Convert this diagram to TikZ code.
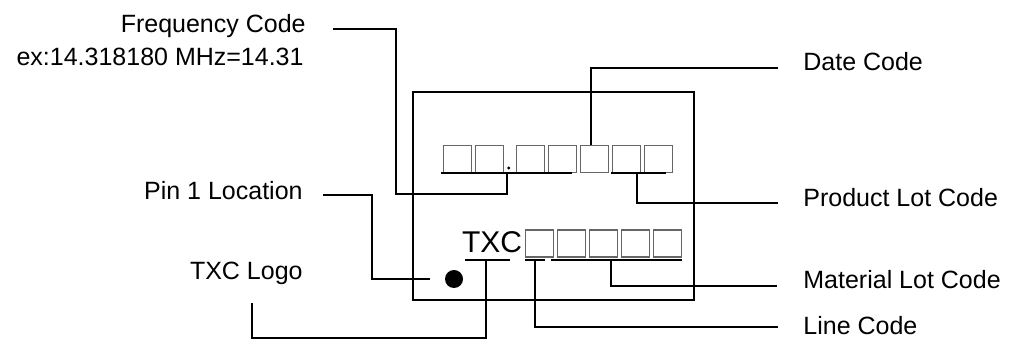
\documentclass[tikz,border=0pt]{standalone}
\usepackage{fontspec}
\setmainfont{Liberation Sans}
\begin{document}
\begin{tikzpicture}[x=0.5pt,y=-0.5pt]

% ---------- styles ----------
\tikzset{
  lead/.style={line width=1pt},
  cell/.style={draw=black!60, line width=0.7pt, minimum width=14pt,
    minimum height=13.5pt, inner sep=0pt, anchor=north west},
  label/.style={font=\fontsize{12.5}{15}\selectfont, inner sep=0pt}
}

\useasboundingbox (0,0) rectangle (1011,340);

% ---------- package outline ----------
\node[draw, lead, minimum width=140.5pt, minimum height=104pt,
  inner sep=0pt, anchor=north west] (chip) at (412,91) {};

% ---------- first row: frequency, date, product lot ----------
\foreach \x [count=\i] in {443,475,516,548,580,612,644}
  \node[cell] (a\i) at (\x,144.7) {};
\node[circle, fill, inner sep=0pt, minimum size=1.6pt] (dp) at (508.7,168) {};

% ---------- second row: logo, line, material lot ----------
\node[font=\fontsize{15}{17}\selectfont, inner sep=0pt, anchor=base west]
  (txc) at (461.7,252.7) {TXC};
\foreach \x [count=\i] in {525,557,589,621,653}
  \node[cell] (b\i) at (\x,229.3) {};

% ---------- pin 1 mark ----------
\node[circle, fill, inner sep=0pt, minimum size=9pt] (pin) at (454,279) {};

% ---------- labels ----------
\node[label, anchor=base east] (freq) at (306,32.3) {Frequency Code};
\node[label, anchor=base east] (freqex) at (304,66) {ex:14.318180 MHz=14.31};
\node[label, anchor=base east] (pinlbl) at (303,199.3) {Pin 1 Location};
\node[label, anchor=base east] (logo) at (303,279.3) {TXC Logo};
\node[label, anchor=base west] (date) at (803,71) {Date Code};
\node[label, anchor=base west] (prod) at (803,206.7) {Product Lot Code};
\node[label, anchor=base west] (mat) at (803,288.3) {Material Lot Code};
\node[label, anchor=base west] (linec) at (803,335) {Line Code};

% ---------- underlines ----------
\draw[lead] (441,173.5) coordinate (fqL) -- (572,173.5) coordinate (fqR);
\draw[lead] (611,173.5) coordinate (plL) -- (666,173.5) coordinate (plR);
\draw[lead] (465,260) coordinate (lgL) -- (510,260) coordinate (lgR);
\draw[lead] (525,260) coordinate (lcL) -- (545,260) coordinate (lcR);
\draw[lead] (551,260) coordinate (mlL) -- (682,260) coordinate (mlR);

% ---------- tap points and free ends ----------
\coordinate (fqTap) at (507,173.5);
\coordinate (dcTap) at (591,144.7);
\coordinate (plTap) at (637,173.5);
\coordinate (lgTap) at (486,260);
\coordinate (lcTap) at (535,260);
\coordinate (mlTap) at (611,260);
\coordinate (fqEnd) at (333,29);
\coordinate (dcEnd) at (778,68.5);
\coordinate (plEnd) at (778,203.3);
\coordinate (pnEnd) at (323,195);
\coordinate (lgEnd) at (252,303);
\coordinate (mlEnd) at (777,285.7);
\coordinate (lcEnd) at (778,326.7);

% ---------- leader lines ----------
\draw[lead] (fqTap) |- (396,194) |- (fqEnd);
\draw[lead] (dcTap) |- (dcEnd);
\draw[lead] (plTap) |- (plEnd);
\draw[lead] ([xshift=-12pt]pin.center) -| (372,195) -- (pnEnd);
\draw[lead] (lgTap) |- (252,338.5) -- (lgEnd);
\draw[lead] (lcTap) |- (lcEnd);
\draw[lead] (mlTap) |- (mlEnd);

\end{tikzpicture}
\end{document}
